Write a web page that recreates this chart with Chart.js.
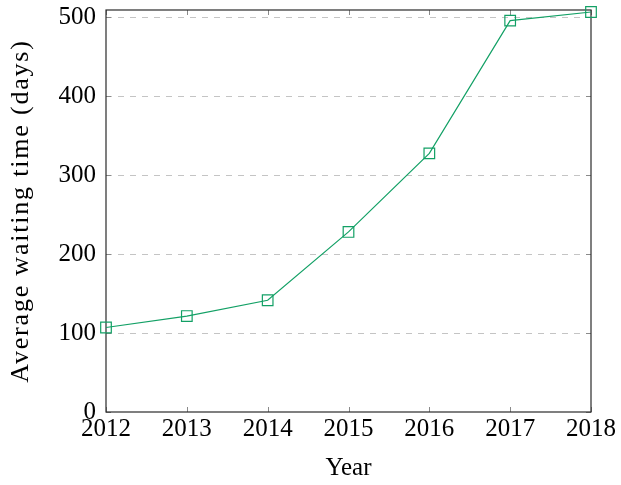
<!DOCTYPE html>
<html>
<head>
<meta charset="utf-8">
<script src="https://cdn.jsdelivr.net/npm/chart.js@4/dist/chart.umd.min.js"></script>
<style>
html,body{margin:0;padding:0;background:#fff;}
#wrap{width:621px;height:485px;position:relative;}
</style>
</head>
<body>
<div id="wrap"><canvas id="c" width="621" height="485"></canvas></div>
<script>
const years = [2012, 2013, 2014, 2015, 2016, 2017, 2018];
const waitingDays = [107, 121.5, 141.5, 228, 327.5, 495.5, 506.5];
const yTicks = [0, 100, 200, 300, 400, 500];
const xTitle = 'Year';
const yTitle = 'Average waiting time (days)';

const FONT = '"Liberation Serif", "DejaVu Serif", serif';
const LINE = '#12a065';

const framePlugin = {
  id: 'frame',
  beforeDatasetsDraw(chart) {
    const {ctx, chartArea: a, scales: {x, y}} = chart;
    ctx.save();
    ctx.strokeStyle = '#c4c4c4';
    ctx.lineWidth = 1;
    ctx.setLineDash([6, 6]);
    yTicks.forEach(v => {
      if (v === 0) return;
      const py = Math.round(y.getPixelForValue(v)) + 0.5;
      ctx.beginPath(); ctx.moveTo(a.left, py); ctx.lineTo(a.right, py); ctx.stroke();
    });
    ctx.setLineDash([]);
    ctx.strokeStyle = '#8a8a8a';
    const tl = 5;
    years.forEach(v => {
      const px = Math.round(x.getPixelForValue(v)) + 0.5;
      ctx.beginPath();
      ctx.moveTo(px, a.bottom); ctx.lineTo(px, a.bottom - tl);
      ctx.moveTo(px, a.top); ctx.lineTo(px, a.top + tl);
      ctx.stroke();
    });
    yTicks.forEach(v => {
      const py = Math.round(y.getPixelForValue(v)) + 0.5;
      ctx.beginPath();
      ctx.moveTo(a.left, py); ctx.lineTo(a.left + tl, py);
      ctx.moveTo(a.right, py); ctx.lineTo(a.right - tl, py);
      ctx.stroke();
    });
    ctx.strokeStyle = '#2a2a2a';
    ctx.lineWidth = 1.2;
    ctx.strokeRect(a.left, a.top, a.right - a.left, a.bottom - a.top);
    ctx.restore();
  }
};

new Chart(document.getElementById('c'), {
  type: 'line',
  data: {
    datasets: [{
      data: years.map((yr, i) => ({x: yr, y: waitingDays[i]})),
      borderColor: LINE,
      backgroundColor: 'rgba(0,0,0,0)',
      borderWidth: 1.2,
      pointStyle: 'rect',
      pointRadius: 7.5,
      pointBorderWidth: 1.2,
      pointBorderColor: LINE,
      pointBackgroundColor: 'rgba(0,0,0,0)',
      tension: 0,
      clip: false
    }]
  },
  options: {
    responsive: false,
    animation: false,
    devicePixelRatio: 1,
    layout: {padding: {left: 0, right: 30, top: 10, bottom: 0}},
    plugins: {legend: {display: false}, tooltip: {enabled: false}},
    scales: {
      x: {
        type: 'linear',
        min: 2012, max: 2018,
        afterFit(s) { s.height = 73; s.paddingLeft = 0; s.paddingRight = 0; },
        grid: {display: false, drawTicks: false},
        border: {display: false},
        ticks: {
          stepSize: 1, padding: 2, color: '#000',
          font: {family: FONT, size: 25},
          maxRotation: 0, autoSkip: false,
          callback: v => String(v)
        },
        title: {display: true, text: xTitle, color: '#000', font: {family: FONT, size: 25}, padding: {top: 4, bottom: 2}}
      },
      y: {
        min: 0, max: 509,
        afterFit(s) {
          s.width = 106; s.paddingTop = 0; s.paddingBottom = 0;
          const orig = s.drawTitle.bind(s);
          s.drawTitle = function () {
            const c = s.ctx;
            const prev = c.letterSpacing;
            c.letterSpacing = '1.8px';
            orig();
            c.letterSpacing = prev || '0px';
          };
        },
        afterBuildTicks(s) { s.ticks = yTicks.map(v => ({value: v})); },
        grid: {display: false, drawTicks: false},
        border: {display: false},
        ticks: {padding: 10, color: '#000', font: {family: FONT, size: 25}},
        title: {display: true, text: yTitle, color: '#000', font: {family: FONT, size: 26}, padding: {top: 6, bottom: 0}}
      }
    }
  },
  plugins: [framePlugin]
});
</script>
</body>
</html>
